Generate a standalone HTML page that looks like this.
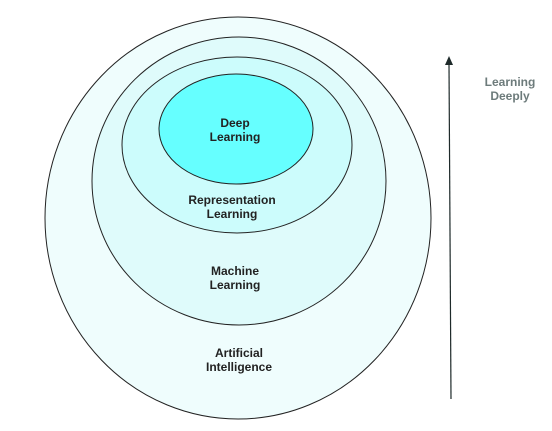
<!DOCTYPE html>
<html><head><style>body{margin:0;background:#fff}svg{display:block}text{font-family:"Liberation Sans",sans-serif;font-weight:bold;font-size:12px;text-anchor:middle}</style></head>
<body><svg width="552" height="431" viewBox="0 0 552 431">
<ellipse cx="238" cy="218" rx="193" ry="201" fill="#effdfd" stroke="#222" stroke-width="1"/>
<ellipse cx="239" cy="181" rx="147" ry="144" fill="#dffbfb" stroke="#222" stroke-width="1"/>
<ellipse cx="237" cy="145" rx="115" ry="88" fill="#ccfcfc" stroke="#222" stroke-width="1"/>
<ellipse cx="236" cy="129" rx="77" ry="55" fill="#66ffff" stroke="#222" stroke-width="1"/>
<text x="235" y="127" fill="#222">Deep</text><text x="235" y="141" fill="#222">Learning</text>
<text x="232" y="204" fill="#222">Representation</text><text x="232" y="218" fill="#222">Learning</text>
<text x="235" y="275" fill="#222">Machine</text><text x="235" y="289" fill="#222">Learning</text>
<text x="239" y="357" fill="#222">Artificial</text><text x="239" y="371" fill="#222">Intelligence</text>
<line x1="451" y1="399" x2="449" y2="64" stroke="#1e2a2a" stroke-width="1.2"/>
<polygon points="449,56 445,65 453,65" fill="#1e2a2a"/>
<text x="510" y="86" fill="#6d7b7b">Learning</text><text x="510" y="100" fill="#6d7b7b">Deeply</text>
</svg></body></html>
